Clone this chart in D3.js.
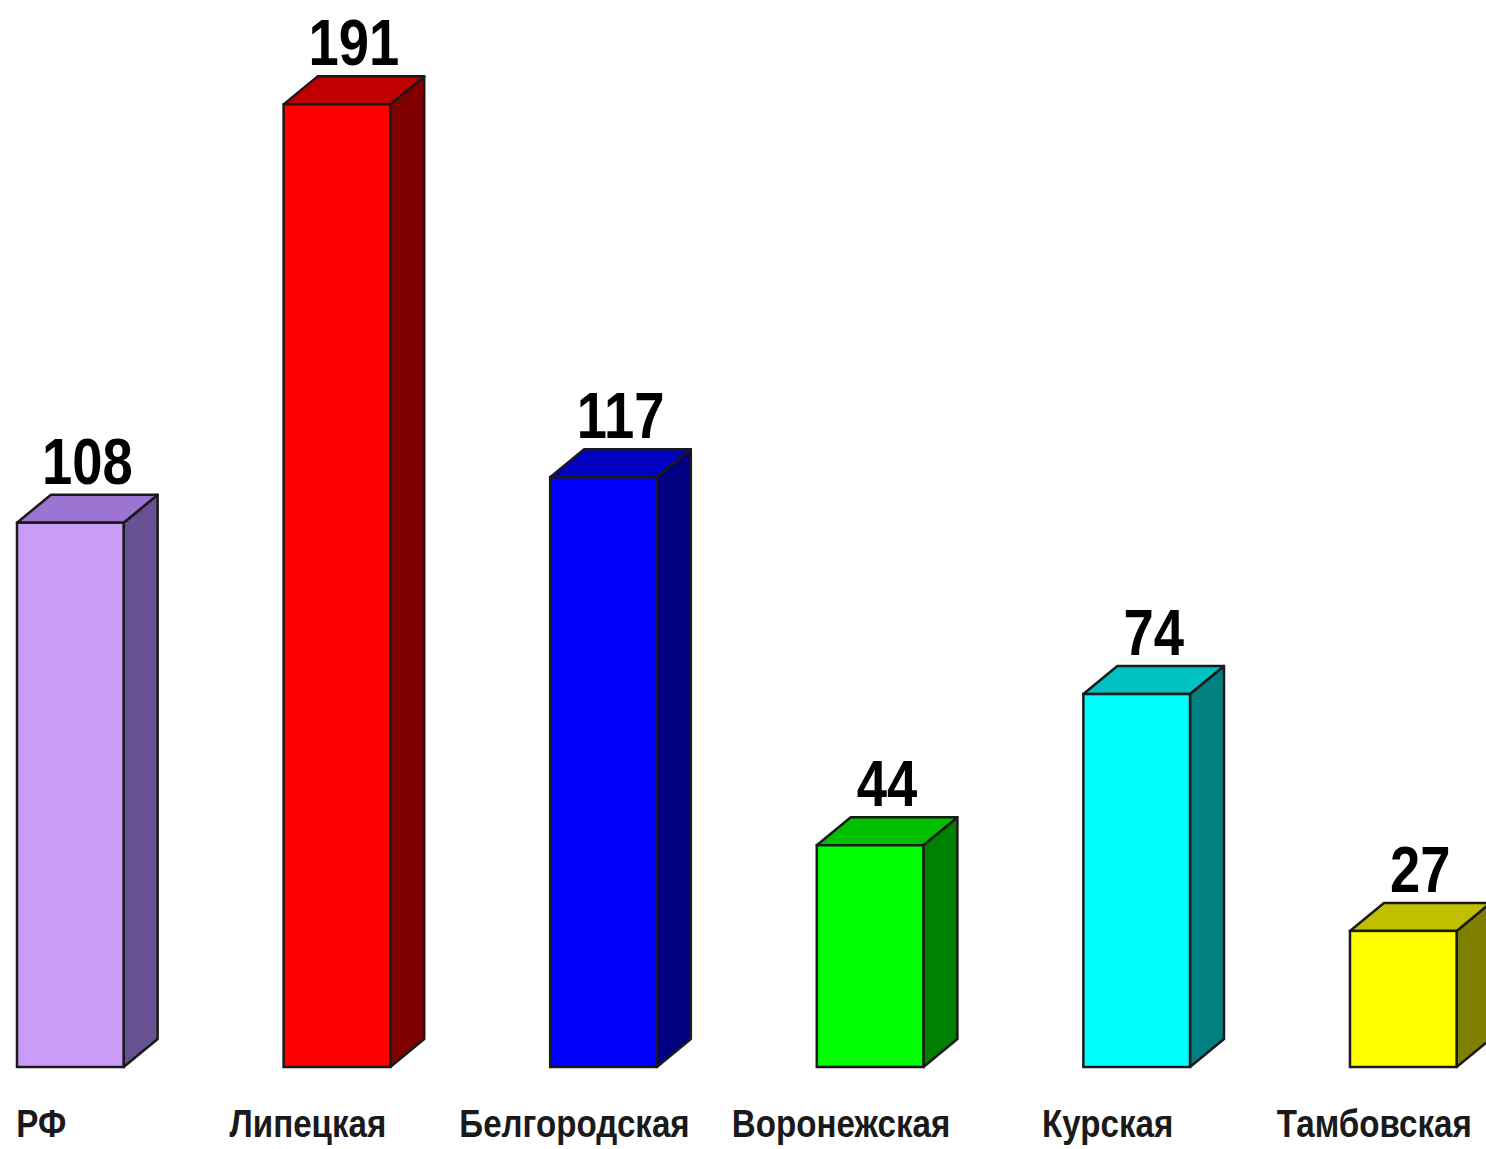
<!DOCTYPE html>
<html>
<head>
<meta charset="utf-8">
<script src="https://cdn.jsdelivr.net/npm/d3@7"></script>
<style>
  body { margin: 0; background: #fff; }
  svg { display: block; }
</style>
</head>
<body>
<svg id="chart" width="1486" height="1149"></svg>
<script>
// regions and values
const regions = ['РФ', 'Липецкая', 'Белгородская', 'Воронежская', 'Курская', 'Тамбовская'];
const values = [108, 191, 117, 44, 74, 27];
// front / top / side shades of each bar
const frontColors = ['#c99cf7', '#ff0000', '#0000ff', '#00ff00', '#00ffff', '#ffff00'];
const topColors = ['#9c74d2', '#c00000', '#0000c0', '#00c000', '#00c0c0', '#c0c000'];
const sideColors = ['#675190', '#800000', '#000080', '#008000', '#008080', '#808000'];

const data = regions.map((r, i) => ({
    region: r, value: values[i],
    front: frontColors[i], top: topColors[i], side: sideColors[i]
}));

const svg = d3.select('#chart');
const baseY = 1067;
const dx = 34, dy = 28;

const xScale = d3.scaleBand()
    .domain(regions)
    .range([17, 1456.6])
    .paddingInner(0.6)
    .paddingOuter(0);

const yScale = d3.scaleLinear()
    .domain([0, 200])
    .range([baseY, baseY - 200 * 5.04]);

const bars = svg.selectAll('g.bar')
    .data(data)
    .join('g')
    .attr('class', 'bar');

// side face
bars.append('path')
    .attr('fill', d => d.side)
    .attr('stroke', '#1a1a1a')
    .attr('stroke-width', 2.5)
    .attr('stroke-linejoin', 'round')
    .attr('d', d => {
        const x1 = xScale(d.region) + xScale.bandwidth();
        const yt = yScale(d.value);
        return `M${x1},${baseY} L${x1 + dx},${baseY - dy} L${x1 + dx},${yt - dy} L${x1},${yt} Z`;
    });

// top face
bars.append('path')
    .attr('fill', d => d.top)
    .attr('stroke', '#1a1a1a')
    .attr('stroke-width', 2.5)
    .attr('stroke-linejoin', 'round')
    .attr('d', d => {
        const x0 = xScale(d.region);
        const x1 = x0 + xScale.bandwidth();
        const yt = yScale(d.value);
        return `M${x0},${yt} L${x0 + dx},${yt - dy} L${x1 + dx},${yt - dy} L${x1},${yt} Z`;
    });

// front face
bars.append('rect')
    .attr('x', d => xScale(d.region))
    .attr('y', d => yScale(d.value))
    .attr('width', xScale.bandwidth())
    .attr('height', d => baseY - yScale(d.value))
    .attr('fill', d => d.front)
    .attr('stroke', '#1a1a1a')
    .attr('stroke-width', 2.5);

// value labels
bars.append('text')
    .attr('transform', d => `translate(${xScale(d.region) + (xScale.bandwidth() + dx) / 2},${yScale(d.value) - dy - 11}) scale(0.85,1)`)
    .attr('text-anchor', 'middle')
    .attr('font-family', 'Liberation Sans, Arial, sans-serif')
    .attr('font-weight', 'bold')
    .attr('font-size', 64)
    .attr('fill', '#000')
    .text(d => d.value);

// category labels
bars.append('text')
    .attr('transform', d => `translate(${xScale(d.region) + (xScale.bandwidth() + dx) / 2 - 46},1137) scale(0.85,1)`)
    .attr('text-anchor', 'middle')
    .attr('font-family', 'Liberation Sans, Arial, sans-serif')
    .attr('font-weight', 'bold')
    .attr('font-size', 39)
    .attr('fill', '#1a1a1a')
    .text(d => d.region);
</script>
</body>
</html>
